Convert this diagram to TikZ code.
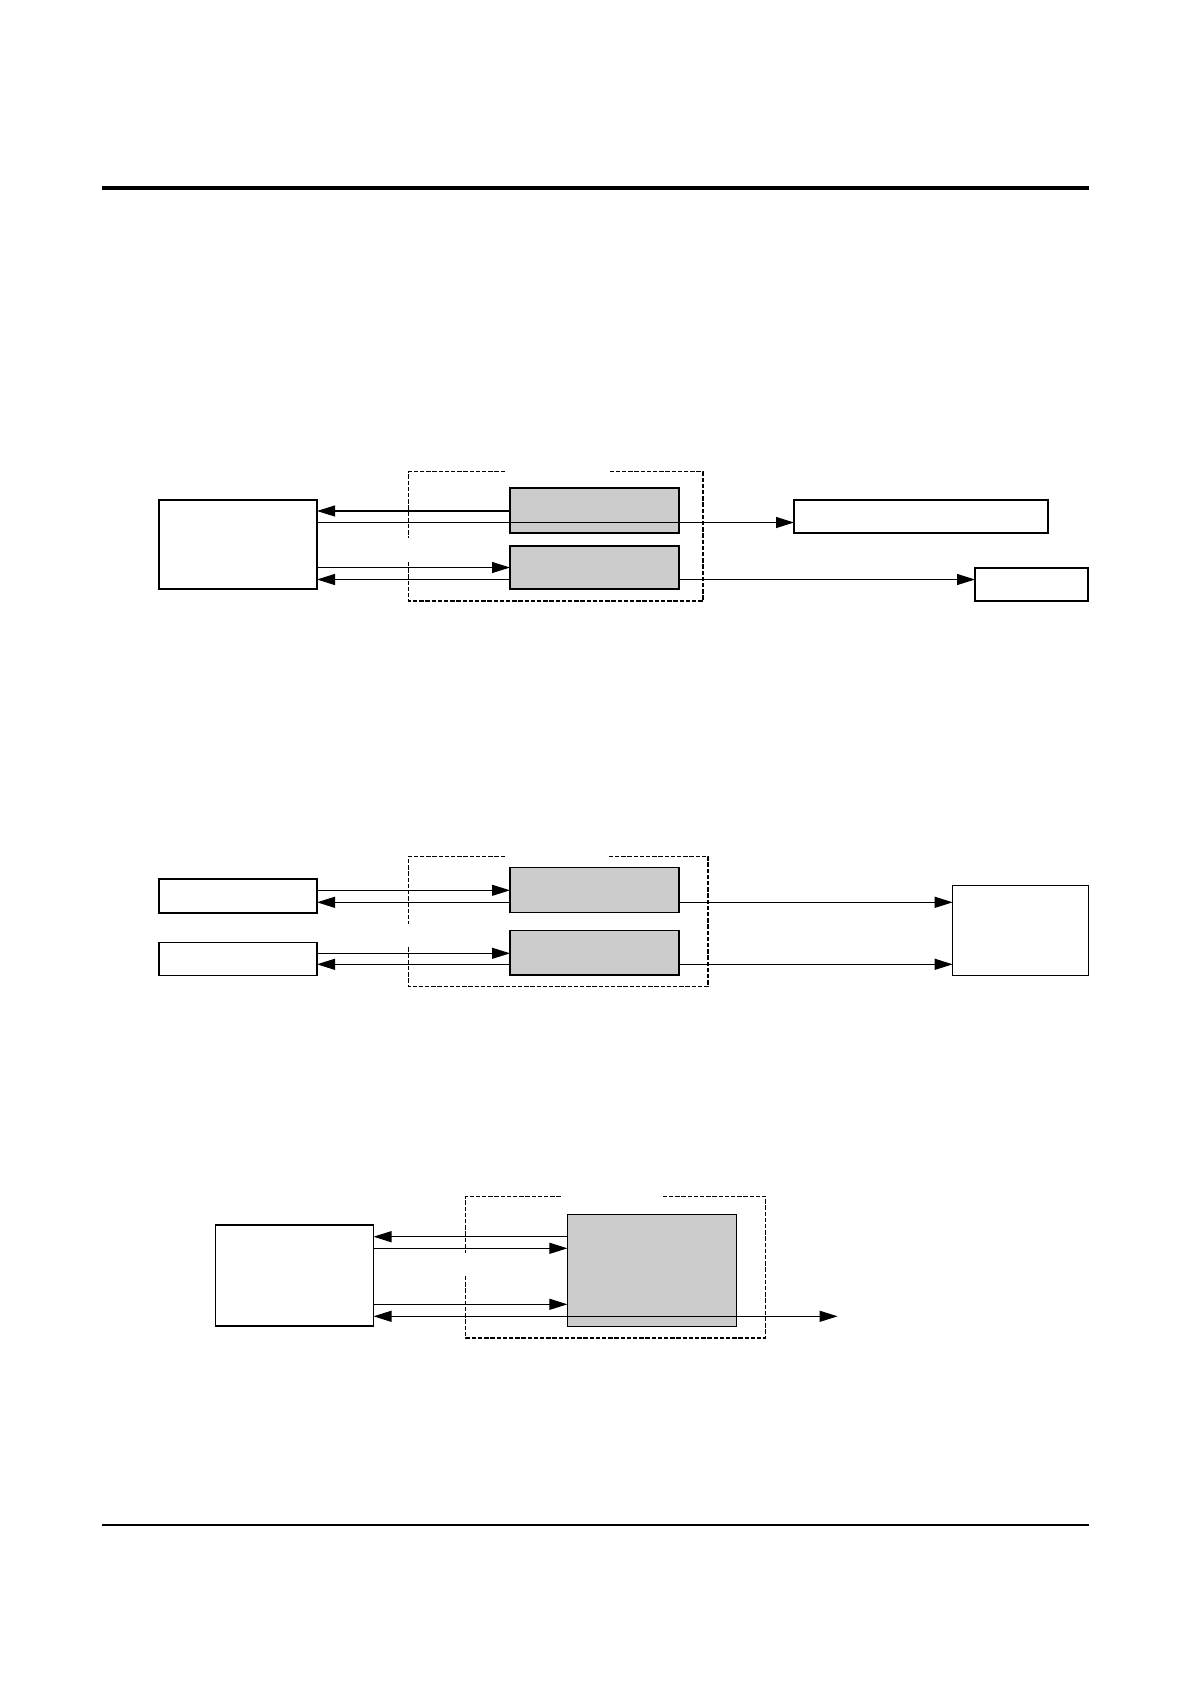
\documentclass[tikz,border=0pt]{standalone}
\usetikzlibrary{arrows.meta}
\definecolor{boxgray}{HTML}{CCCCCC}
\begin{document}
\begin{tikzpicture}[x=0.5pt,y=-0.5pt,
  wbox/.style={draw=black,fill=white,line width=0.55pt,inner sep=0pt,outer sep=0pt},
  gbox/.style={draw=black,fill=boxgray,line width=0.55pt,inner sep=0pt,outer sep=0pt},
  dbox/.style={draw=black,line width=0.7pt,dash pattern=on 2.2pt off 0.9pt},
  arr/.style={line width=0.55pt,-{Triangle[length=9pt,width=5.5pt]}},
  darr/.style={line width=0.55pt,{Triangle[length=9pt,width=5.5pt]}-{Triangle[length=9pt,width=5.5pt]}}]
\useasboundingbox (0,0) rectangle (1191,1685);
% rules
\draw[line width=2pt] (102,188) -- (1089,188);
\draw[line width=0.75pt] (102,1525) -- (1089,1525);

% ---------- diagram 1 ----------
\draw[dbox] (505,471.7) -- (408.5,471.7) -- (408.5,538);
\draw[dbox] (408.5,562) -- (408.5,601) -- (703,601) -- (703,471.7) -- (608,471.7);
\node[wbox,minimum width=79pt,minimum height=44.5pt] (L1) at (238,544.5) {};
\node[gbox,minimum width=84.5pt,minimum height=22.5pt] (G1) at (594.5,510.5) {};
\node[gbox,minimum width=84.5pt,minimum height=21.5pt] (G2) at (594.5,567.5) {};
\node[wbox,minimum width=127pt,minimum height=16.5pt] (R1) at (921,516.5) {};
\node[wbox,minimum width=56.5pt,minimum height=16.5pt] (S1) at (1031.5,584.5) {};
\draw[arr] (G1.west |- 0,511) -- (L1.east |- 0,511);
\draw[arr] (L1.east |- 0,522.5) -- (R1.west |- 0,522.5);
\draw[arr] (L1.east |- 0,567.5) -- (G2.west |- 0,567.5);
\draw[arr] (G2.west |- 0,579.5) -- (L1.east |- 0,579.5);
\draw[arr] (G2.east |- 0,579.5) -- (S1.west |- 0,579.5);

% ---------- diagram 2 ----------
\draw[dbox] (505,856.3) -- (408.5,856.3) -- (408.5,924.3);
\draw[dbox] (408.5,947.3) -- (408.5,986.7) -- (708,986.7) -- (708,856.3) -- (608,856.3);
\node[wbox,minimum width=79pt,minimum height=17pt] (A) at (238,896) {};
\node[wbox,minimum width=79pt,minimum height=16.5pt] (B) at (238,959) {};
\node[gbox,minimum width=84.5pt,minimum height=22.3pt] (G3) at (594.5,890.2) {};
\node[gbox,minimum width=84.5pt,minimum height=22.3pt] (G4) at (594.5,952.7) {};
\node[wbox,minimum width=67.8pt,minimum height=45pt] (RB) at (1020.5,930.3) {};
\draw[arr] (A.east |- 0,890.3) -- (G3.west |- 0,890.3);
\draw[arr] (G3.west |- 0,902.3) -- (A.east |- 0,902.3);
\draw[arr] (B.east |- 0,953.3) -- (G4.west |- 0,953.3);
\draw[arr] (G4.west |- 0,964.3) -- (B.east |- 0,964.3);
\draw[arr] (G3.east |- 0,902.3) -- (RB.west |- 0,902.3);
\draw[arr] (G4.east |- 0,964.3) -- (RB.west |- 0,964.3);

% ---------- diagram 3 ----------
\draw[dbox] (560.7,1196.3) -- (465.6,1196.3) -- (465.6,1253.3);
\draw[dbox] (465.6,1276) -- (465.6,1338) -- (765.2,1338) -- (765.2,1196.3) -- (663,1196.3);
\node[wbox,minimum width=79pt,minimum height=50.5pt] (L3) at (294.5,1275.5) {};
\node[gbox,minimum width=84.4pt,minimum height=55.85pt] (G5) at (651.8,1270.2) {};
\coordinate (E) at (837.6,1316.3);
\draw[arr] (G5.west |- 0,1236.7) -- (L3.east |- 0,1236.7);
\draw[arr] (L3.east |- 0,1248.3) -- (G5.west |- 0,1248.3);
\draw[arr] (L3.east |- 0,1304.3) -- (G5.west |- 0,1304.3);
\draw[darr] (L3.east |- E) -- (E);
\end{tikzpicture}
\end{document}
